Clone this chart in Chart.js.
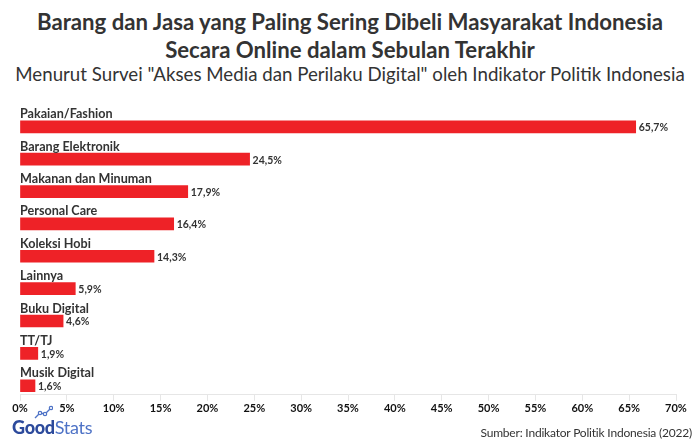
<!DOCTYPE html>
<html>
<head>
<meta charset="utf-8">
<script src="https://cdn.jsdelivr.net/npm/chart.js@4.4.0/dist/chart.umd.min.js"></script>
<style>
  html, body { margin: 0; padding: 0; background: #ffffff; }
  body { width: 700px; height: 443px; position: relative; overflow: hidden; font-family: Lato, "Noto Sans", sans-serif; }
  #title { position: absolute; left: 0; top: 8px; width: 700px; text-align: center; font-weight: 700; font-size: 22.2px; line-height: 28px; color: #333333; }
  #subtitle { position: absolute; left: 0; top: 63px; width: 700px; text-align: center; font-size: 18.7px; line-height: 22px; color: #333333; }
  #wrap { position: absolute; left: 0; top: 0; width: 700px; height: 443px; }
  #logo { position: absolute; left: 12px; top: 416px; font-size: 18px; line-height: 22px; color: #2c4a9c; letter-spacing: -0.3px; }
  #logo b { font-weight: 900; color: #2c4a9c; }
  #logo span { font-weight: 400; color: #4d72c6; }
  #logo svg { position: absolute; left: 21px; top: -11px; }
  #source { position: absolute; right: 8px; top: 424px; font-size: 12px; line-height: 18px; letter-spacing: -0.2px; color: #333333; }
</style>
</head>
<body>
<div id="title">Barang dan Jasa yang Paling Sering Dibeli Masyarakat Indonesia<br>Secara Online dalam Sebulan Terakhir</div>
<div id="subtitle">Menurut Survei "Akses Media dan Perilaku Digital" oleh Indikator Politik Indonesia</div>
<div id="wrap"><canvas id="chart"></canvas></div>
<div id="logo"><svg width="20" height="14" viewBox="0 0 20 14"><polyline points="2,13 7,8 12,9 18,3" fill="none" stroke="#4d72c6" stroke-width="1.4"/><circle cx="7" cy="8" r="1.7" fill="#fff" stroke="#4d72c6" stroke-width="1.2"/><circle cx="12" cy="9" r="1.7" fill="#fff" stroke="#4d72c6" stroke-width="1.2"/><circle cx="18" cy="3" r="1.7" fill="#fff" stroke="#4d72c6" stroke-width="1.2"/></svg><b>Good</b><span>Stats</span></div>
<div id="source">Sumber: Indikator Politik Indonesia (2022)</div>
<script>
const categories = ["Pakaian/Fashion", "Barang Elektronik", "Makanan dan Minuman", "Personal Care", "Koleksi Hobi", "Lainnya", "Buku Digital", "TT/TJ", "Musik Digital"];
const values = [65.7, 24.5, 17.9, 16.4, 14.3, 5.9, 4.6, 1.9, 1.6];
const xTicks = [0, 5, 10, 15, 20, 25, 30, 35, 40, 45, 50, 55, 60, 65, 70];

const fmt = v => String(v).replace('.', ',') + '%';

const labelPlugin = {
  id: 'barLabels',
  afterDatasetsDraw(chart) {
    const ctx = chart.ctx;
    const meta = chart.getDatasetMeta(0);
    ctx.save();
    meta.data.forEach((bar, i) => {
      const h = bar.height;
      ctx.fillStyle = '#333333';
      ctx.font = 'bold 12.6px Lato, "Noto Sans", sans-serif';
      ctx.textAlign = 'left';
      ctx.textBaseline = 'alphabetic';
      ctx.fillText(categories[i], chart.chartArea.left, bar.y - h / 2 - 2.5);
      ctx.font = 'bold 10.5px Lato, "Noto Sans", sans-serif';
      ctx.textBaseline = 'middle';
      ctx.fillText(fmt(values[i]), bar.x + 3, bar.y + 1);
    });
    ctx.restore();
  }
};

new Chart(document.getElementById('chart'), {
  type: 'bar',
  data: {
    datasets: [{
      data: values.map((v, i) => ({ x: v, y: i })),
      backgroundColor: '#ee2227',
      borderWidth: 0,
      barThickness: 12
    }]
  },
  options: {
    indexAxis: 'y',
    responsive: true,
    maintainAspectRatio: false,
    animation: false,
    layout: { padding: { top: 110, left: 20, right: 24, bottom: 27 } },
    plugins: { legend: { display: false }, tooltip: { enabled: false } },
    scales: {
      y: {
        type: 'linear',
        reverse: true,
        offset: false,
        min: -0.52,
        max: 8.28,
        display: false
      },
      x: {
        type: 'linear',
        min: 0,
        max: 70,
        afterBuildTicks: axis => { axis.ticks = xTicks.map(v => ({ value: v })); },
        grid: { drawOnChartArea: false, color: '#e6e6e6', tickLength: 6 },
        border: { color: '#e6e6e6' },
        ticks: {
          padding: 1,
          color: '#111111',
          font: { family: 'Lato, "Noto Sans", sans-serif', size: 11, weight: 'bold' },
          callback: v => v + '%'
        }
      }
    }
  },
  plugins: [labelPlugin]
});
</script>
</body>
</html>
